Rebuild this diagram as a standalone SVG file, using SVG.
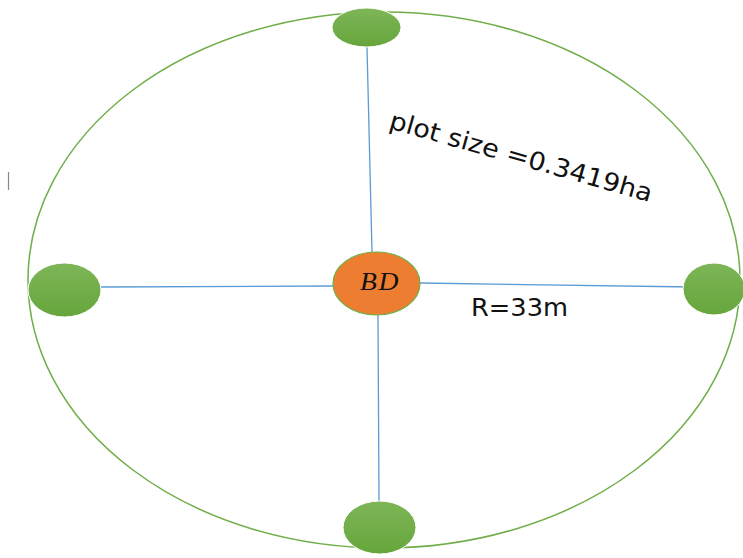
<svg xmlns="http://www.w3.org/2000/svg" width="743" height="558" viewBox="0 0 743 558">
<style>
.green{fill:url(#g);stroke:#ffffff;stroke-width:1}
.conn{stroke:#5B9BD5;stroke-width:1.3;fill:none}
.lbl{font-family:"DejaVu Sans","Open Sans",sans-serif;fill:#111}
</style>
<defs>
<linearGradient id="g" x1="0" y1="0" x2="0" y2="1">
<stop offset="0" stop-color="#7EB657"/>
<stop offset="1" stop-color="#66A53C"/>
</linearGradient>
</defs>
<rect width="743" height="558" fill="#ffffff"/>
<line x1="8.5" y1="172" x2="8.5" y2="190" stroke="#888" stroke-width="1.2"/>
<g id="plot-boundary"><ellipse cx="384" cy="280" rx="356" ry="268" fill="none" stroke="#70AD47" stroke-width="1.5"/></g>
<g id="connectors">
<line class="conn" x1="367" y1="47" x2="372" y2="252"/>
<line class="conn" x1="378" y1="315" x2="379" y2="501"/>
<line class="conn" x1="101" y1="287" x2="333" y2="286"/>
<line class="conn" x1="420" y1="283" x2="693" y2="287"/>
</g>
<g id="node-top"><ellipse class="green" cx="366.5" cy="27.5" rx="34.5" ry="19.5"/></g>
<g id="node-left"><ellipse class="green" cx="64.5" cy="290" rx="36.5" ry="27"/></g>
<g id="node-right"><ellipse class="green" cx="714" cy="289" rx="31" ry="26"/></g>
<g id="node-bottom"><ellipse class="green" cx="379.5" cy="527.5" rx="36.5" ry="26.5"/></g>
<g id="node-center">
<ellipse cx="376.5" cy="283.5" rx="43.5" ry="31.5" fill="#ED7D31" stroke="#70AD47" stroke-width="1.2"/>
<text x="380" y="290" text-anchor="middle" font-family="Liberation Serif,serif" font-style="italic" font-size="26" letter-spacing="1.5" fill="#111" textLength="40" lengthAdjust="spacingAndGlyphs">BD</text>
</g>
<g id="labels">
<text class="lbl" x="388" y="128" font-size="25" textLength="272" lengthAdjust="spacingAndGlyphs" transform="rotate(15.8 388 128)">plot size =0.3419ha</text>
<text class="lbl" x="471" y="316" font-size="25" textLength="97" lengthAdjust="spacingAndGlyphs">R=33m</text>
</g>
</svg>
